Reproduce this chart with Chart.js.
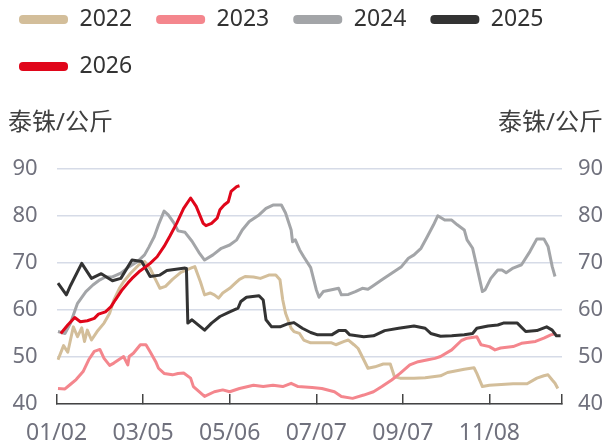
<!DOCTYPE html>
<html>
<head>
<meta charset="utf-8">
<script src="https://cdn.jsdelivr.net/npm/chart.js@4.4.1/dist/chart.umd.min.js"></script>
<style>
  html, body { margin: 0; padding: 0; background: #fff; }
  #wrap { width: 606px; height: 444px; position: relative; }
</style>
</head>
<body>
<div id="wrap"><canvas id="chart"></canvas></div>
<script>
// x = day number counted from 01/02
const tickDays = [0, 62, 124, 186, 248, 310, 362]
const tickLabels = ['01/02', '03/05', '05/06', '07/07', '09/07', '11/08', '']
const unitText = '泰铢/公斤'

const days2022 = [1,5,8,12,15,18,20,22,25,29,34,38,41,45,48,53,59,63,67,71,74,78,83,89,97,99,103,106,110,113,116,119,124,128,131,135,141,146,152,157,160,162,164,168,170,174,177,182,190,197,200,206,209,213,216,220,223,228,234,239,242,246,256,264,275,280,292,299,301,305,310,327,337,344,349,352,355,357,359]
const vals2022 = [49.4,52.4,51.0,56.4,54.3,56.2,53.3,55.7,53.6,55.4,57.2,59.3,62.1,64.6,66.0,67.8,69.6,70.3,68.8,66.4,64.6,65.0,66.5,68.0,69.0,69.2,66.0,63.2,63.6,63.2,62.5,63.6,64.6,65.7,66.5,67.1,67.0,66.7,67.4,67.4,66.4,62.1,59.3,56.1,55.4,55.0,53.6,53.0,53.0,53.0,52.6,53.3,53.6,52.6,51.8,49.4,47.6,47.9,48.5,48.5,45.8,45.5,45.5,45.6,46.0,46.7,47.4,47.7,46.5,43.7,44.0,44.3,44.3,45.5,46.0,46.2,45.1,44.4,43.3]

const days2023 = [1,6,10,14,19,23,27,31,34,38,41,45,48,51,52,55,60,64,67,71,73,77,83,87,91,96,98,106,113,119,124,131,141,148,155,162,168,173,183,190,199,204,212,220,227,233,240,246,253,259,266,271,275,283,290,294,301,304,310,314,318,327,333,343,349,354,358]
const vals2023 = [43.3,43.2,44.2,45.2,46.9,49.4,51.2,51.6,49.7,48.2,48.7,49.5,50.1,48.3,50.1,50.8,52.6,52.6,51.1,49.0,47.6,46.5,46.2,46.5,46.6,45.5,43.7,41.6,42.6,43.0,42.6,43.3,44.0,43.7,44.0,43.7,44.4,43.7,43.5,43.3,42.6,41.6,41.2,41.9,42.6,43.7,45.1,46.5,48.3,49.0,49.4,49.7,50.1,51.5,53.5,54.0,54.3,52.6,52.2,51.5,51.9,52.2,52.9,53.3,54.0,54.7,55.0]

const days2024 = [1,6,10,15,21,26,31,35,40,46,52,58,63,66,70,73,77,80,84,87,92,97,102,106,112,118,124,129,133,138,145,150,155,161,164,168,169,171,174,177,182,186,188,191,197,202,204,209,214,219,223,226,233,240,247,252,256,261,265,270,273,278,283,287,292,294,298,301,305,307,311,316,319,322,327,333,339,344,349,352,355,357]
const vals2024 = [55.4,55.0,57.2,61.4,63.9,65.3,66.4,67.0,67.0,67.8,69.2,70.3,71.7,73.3,75.6,78.1,81.0,80.2,78.5,76.8,76.5,74.6,72.2,70.6,71.7,73.1,73.8,74.9,77.0,78.8,80.2,81.6,82.3,82.3,80.6,77.0,74.5,74.9,72.8,71.3,69.0,64.3,62.7,63.9,64.3,64.6,63.2,63.3,63.9,64.6,64.4,65.0,66.4,67.8,69.2,71.0,71.7,73.1,75.3,78.1,80.0,79.1,79.1,78.1,77.0,74.9,73.1,69.2,63.9,64.3,66.7,68.5,68.5,67.9,68.9,69.6,72.4,75.1,75.1,73.5,69.2,67.1]

const days2025 = [1,7,10,18,25,32,40,46,54,61,67,74,79,92,93,94,97,106,111,117,124,130,132,136,145,148,150,154,160,165,170,176,182,187,197,202,207,210,220,227,235,245,256,264,268,275,283,292,298,301,309,316,320,330,336,344,351,355,358,361]
const vals2025 = [65.7,63.2,65.2,69.9,66.7,67.7,66.2,66.7,70.6,70.3,67.1,67.4,68.4,68.9,68.8,57.2,57.9,55.7,57.2,58.6,59.6,60.4,61.8,62.7,63.0,62.1,57.9,56.4,56.4,57.0,57.3,56.1,55.2,54.7,54.7,55.6,55.6,54.7,54.3,54.5,55.6,56.1,56.6,56.1,55.0,54.4,54.5,54.7,55.0,56.1,56.6,56.8,57.2,57.2,55.4,55.6,56.4,55.7,54.5,54.5]

const days2026 = [3,8,13,17,22,27,30,35,39,42,47,51,54,59,64,67,72,77,81,86,91,96,100,105,107,111,115,117,120,123,125,129,131]
const vals2026 = [55.0,56.8,58.4,57.5,57.7,58.2,59.1,59.6,60.7,62.1,64.3,65.7,66.7,68.1,69.2,69.9,71.3,73.5,75.6,78.4,81.6,83.8,82.0,78.4,77.9,78.4,79.5,81.3,82.3,83.0,85.2,86.2,86.4]

const fontFamily = "'Noto Sans', 'Noto Sans CJK SC', sans-serif"
const tickColor = '#70717d'

function pts(days, vals) {
    return days.map((d, i) => ({ x: d, y: vals[i] }))
}

function line(label, days, vals, color, order) {
    return {
        label: label,
        data: pts(days, vals),
        borderColor: color,
        backgroundColor: color,
        borderWidth: 3,
        pointRadius: 0,
        tension: 0,
        borderJoinStyle: 'round',
        order: order
    }
}

// left unit label, on the same row as the title (which holds the right one)
const leftUnit = {
    id: 'leftUnit',
    afterDraw(chart) {
        const ctx = chart.ctx
        ctx.save()
        ctx.font = '24px ' + fontFamily
        ctx.fillStyle = '#404040'
        ctx.textAlign = 'left'
        ctx.textBaseline = 'middle'
        ctx.fillText(unitText, 8, chart.chartArea.top - 46)
        ctx.restore()
    }
}

Chart.defaults.font.family = fontFamily

const ctx = document.getElementById('chart').getContext('2d')
const chart = new Chart(ctx, {
    type: 'line',
    data: {
        datasets: [
            line('2022', days2022, vals2022, '#d3be9a', 5),
            line('2023', days2023, vals2023, '#f4868d', 4),
            line('2024', days2024, vals2024, '#a3a5a8', 3),
            line('2025', days2025, vals2025, '#333333', 2),
            line('2026', days2026, vals2026, '#e0061a', 1)
        ]
    },
    options: {
        responsive: true,
        maintainAspectRatio: false,
        animation: false,
        devicePixelRatio: 1,
        events: [],
        layout: { padding: { top: -16, left: -5, right: 3, bottom: 0 } },
        plugins: {
            legend: {
                position: 'top',
                align: 'start',
                labels: {
                    boxWidth: 49,
                    boxHeight: 9,
                    useBorderRadius: true,
                    borderRadius: 4,
                    padding: 24,
                    color: '#333',
                    font: { size: 23 },
                    sort: (a, b) => a.datasetIndex - b.datasetIndex,
                    generateLabels(chart) {
                        const items = Chart.defaults.plugins.legend.labels.generateLabels(chart)
                        items.forEach(it => { it.lineWidth = 0 })
                        return items
                    }
                }
            },
            title: {
                display: true,
                text: unitText,
                align: 'end',
                position: 'top',
                weight: 500,
                color: '#404040',
                font: { size: 24, weight: 'normal', lineHeight: 1.2 },
                padding: { top: 21, bottom: 31 }
            },
            tooltip: { enabled: false }
        },
        scales: {
            x: {
                type: 'linear',
                min: 0,
                max: 362,
                afterBuildTicks: axis => { axis.ticks = tickDays.map(v => ({ value: v })) },
                afterFit: scale => { scale.height = 40 },
                ticks: {
                    autoSkip: false,
                    maxRotation: 0,
                    padding: 26,
                    color: tickColor,
                    font: { size: 23 },
                    callback: v => tickLabels[tickDays.indexOf(v)]
                },
                grid: {
                    display: true,
                    drawOnChartArea: false,
                    drawTicks: true,
                    tickLength: -10,
                    color: '#444',
                    lineWidth: 1.5
                },
                border: { display: true, color: '#444', width: 1.5 }
            },
            y: {
                position: 'left',
                min: 40,
                max: 90,
                afterFit: scale => { scale.width = 57 },
                ticks: { stepSize: 10, padding: 19, color: tickColor, font: { size: 22 } },
                grid: { color: '#d6dbe7', lineWidth: 1.5, drawTicks: false },
                border: { display: false }
            },
            y2: {
                position: 'right',
                min: 40,
                max: 90,
                afterFit: scale => { scale.width = 41 },
                ticks: { stepSize: 10, padding: 16, color: tickColor, font: { size: 22 } },
                grid: { display: false, drawTicks: false },
                border: { display: false }
            }
        }
    },
    plugins: [leftUnit]
})
</script>
</body>
</html>
